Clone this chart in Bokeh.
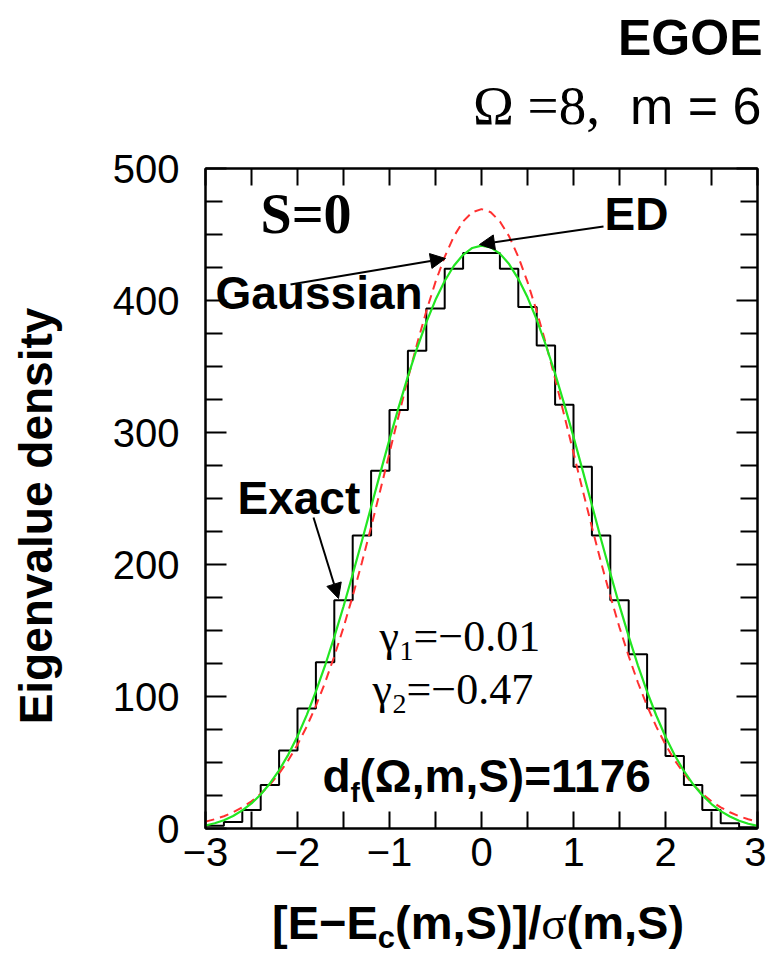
import math
from bokeh.plotting import figure
from bokeh.models import Label, Arrow, NormalHead, LinearAxis, FixedTicker, Range1d, Div
from bokeh.layouts import column, row
from bokeh.embed import file_html
from bokeh.resources import INLINE

# ---------------- data ----------------
bin_edges = [-3.0, -2.8, -2.6, -2.4, -2.2, -2.0, -1.8, -1.6, -1.4, -1.2, -1.0,
             -0.8, -0.6, -0.4, -0.2, 0.0, 0.2, 0.4, 0.6, 0.8, 1.0,
             1.2, 1.4, 1.6, 1.8, 2.0, 2.2, 2.4, 2.6, 2.8, 3.0]
bin_heights = [2, 5, 14, 33, 59, 91, 126, 173, 222, 271,
               317, 362, 394, 424, 436, 436, 424, 395, 366, 321,
               274, 222, 173, 132, 91, 55, 33, 14, 4, 1]

curve_x = [-3.0, -2.9, -2.8, -2.7, -2.6, -2.5, -2.4, -2.3, -2.2, -2.1,
           -2.0, -1.9, -1.8, -1.7, -1.6, -1.5, -1.4, -1.3, -1.2, -1.1,
           -1.0, -0.9, -0.8, -0.7, -0.6, -0.5, -0.4, -0.3, -0.2, -0.1,
           0.0, 0.1, 0.2, 0.3, 0.4, 0.5, 0.6, 0.7, 0.8, 0.9,
           1.0, 1.1, 1.2, 1.3, 1.4, 1.5, 1.6, 1.7, 1.8, 1.9,
           2.0, 2.1, 2.2, 2.3, 2.4, 2.5, 2.6, 2.7, 2.8, 2.9, 3.0]
gauss_y = [5.2, 7.0, 9.3, 12.3, 16.0, 20.6, 26.3, 33.3, 41.7, 51.7,
           63.5, 77.2, 92.9, 110.6, 130.5, 152.3, 176.1, 201.5, 228.4, 256.2,
           284.6, 312.9, 340.7, 367.2, 391.9, 414.1, 433.1, 448.6, 459.9, 466.9,
           469.2, 466.9, 459.9, 448.6, 433.1, 414.1, 391.9, 367.2, 340.7, 312.9,
           284.6, 256.2, 228.4, 201.5, 176.1, 152.3, 130.5, 110.6, 92.9, 77.2,
           63.5, 51.7, 41.7, 33.3, 26.3, 20.6, 16.0, 12.3, 9.3, 7.0, 5.2]
ed_y = [2.3, 4.0, 6.3, 9.5, 13.7, 19.0, 25.8, 34.1, 44.1, 56.0,
        69.9, 85.9, 103.8, 123.5, 145.2, 168.2, 192.6, 217.8, 243.6, 269.4,
        294.8, 319.2, 342.5, 364.0, 383.4, 400.5, 414.8, 426.3, 434.6, 439.8,
        441.6, 440.2, 435.5, 427.6, 416.4, 402.4, 385.5, 366.1, 344.6, 321.3,
        296.7, 271.1, 245.1, 219.0, 193.5, 168.8, 145.5, 123.6, 103.6, 85.6,
        69.5, 55.5, 43.6, 33.5, 25.2, 18.5, 13.2, 9.1, 5.9, 3.6, 2.0]

x_major_ticks = [-3, -2, -1, 0, 1, 2, 3]
x_tick_labels = ["\u22123", "\u22122", "\u22121", "0", "1", "2", "3"]
x_minor_ticks = [-2.5, -1.5, -0.5, 0.5, 1.5, 2.5]
y_major_ticks = [0, 100, 200, 300, 400, 500]
y_tick_labels = ["0", "100", "200", "300", "400", "500"]
y_minor_ticks = [25, 50, 75, 125, 150, 175, 225, 250, 275, 325, 350, 375, 425, 450, 475]

title_text = "EGOE"
subtitle_left = "\u03a9 =8,"
subtitle_right = "m = 6"
y_label = "Eigenvalue density"

# ---------------- layout constants (page pixels) ----------------
PAGE_W = 766
LEFT_W = 70          # y-label div width
TOP_H = 140          # title div height
FIG_H = 746          # figure height (page y 140 .. 886)
BOT_H = 68           # x-label div height (page y 886 .. 954)
FRAME_L, FRAME_R, FRAME_T, FRAME_B = 205, 757, 168, 828

# ---------------- figure ----------------
p = figure(width=PAGE_W - LEFT_W, height=FIG_H, x_range=Range1d(-3, 3), y_range=Range1d(0, 500),
           output_backend="svg", toolbar_location=None,
           x_axis_location=None, y_axis_location=None,
           min_border_left=FRAME_L - LEFT_W, min_border_right=PAGE_W - FRAME_R,
           min_border_top=FRAME_T - TOP_H, min_border_bottom=TOP_H + FIG_H - FRAME_B,
           margin=(0, 0, 0, 0))
p.grid.visible = False
p.outline_line_color = "black"
p.outline_line_width = 2
p.background_fill_color = "white"
p.border_fill_color = "white"


def make_axis(ticks, minor, labels, show, tin, minin, standoff):
    ax = LinearAxis(ticker=FixedTicker(ticks=ticks, minor_ticks=minor))
    if show:
        ax.major_label_overrides = dict(zip(ticks, labels))
    else:
        ax.major_label_overrides = {t: "" for t in ticks}
    ax.major_tick_in = tin
    ax.major_tick_out = 0
    ax.minor_tick_in = minin
    ax.minor_tick_out = 0
    ax.axis_line_width = 2
    ax.axis_line_color = "black"
    ax.major_tick_line_width = 2
    ax.minor_tick_line_width = 2
    ax.major_tick_line_color = "black"
    ax.minor_tick_line_color = "black"
    ax.major_label_text_font = "Liberation Sans"
    ax.major_label_text_font_size = "40px"
    ax.major_label_text_color = "black"
    ax.major_label_standoff = standoff if show else 0
    return ax


p.add_layout(make_axis(x_major_ticks, x_minor_ticks, x_tick_labels, True, 17, 17, 9), "below")
p.add_layout(make_axis(x_major_ticks, x_minor_ticks, x_tick_labels, False, 17, 17, 0), "above")
p.add_layout(make_axis(y_major_ticks, y_minor_ticks, y_tick_labels, True, 21, 17, 26), "left")
p.add_layout(make_axis(y_major_ticks, y_minor_ticks, y_tick_labels, False, 21, 17, 0), "right")

# histogram (Exact)
p.step(x=bin_edges, y=bin_heights + [bin_heights[-1]], mode="after",
       line_color="black", line_width=2)
# Gaussian
p.line(curve_x, gauss_y, line_color="#ff3030", line_width=2, line_dash="9 6")
# ED
p.line(curve_x, ed_y, line_color="#22e622", line_width=2.2)


# ---------------- annotations inside the frame ----------------
def px(X, Y):
    x = (X - FRAME_L) / ((FRAME_R - FRAME_L) / 6.0) - 3.0
    y = (FRAME_B - Y) / ((FRAME_B - FRAME_T) / 500.0)
    return x, y


def add_text(text, X, Y, size, font="Liberation Sans", style="bold"):
    # Y is the wanted baseline; Bokeh's alphabetic baseline sits ~0.35em lower
    x, y = px(X, Y - 0.35 * size)
    p.add_layout(Label(x=x, y=y, text=text, text_font=font, text_font_size=f"{size}px",
                       text_font_style=style, text_align="left", text_baseline="alphabetic",
                       text_color="black"))


def add_arrow(X0, Y0, X1, Y1):
    x0, y0 = px(X0, Y0)
    x1, y1 = px(X1, Y1)
    p.add_layout(Arrow(end=NormalHead(size=15, fill_color="black", line_color="black"),
                       x_start=x0, y_start=y0, x_end=x1, y_end=y1,
                       line_color="black", line_width=2))


add_text("S=0", 260, 233, 56, font="Liberation Serif", style="bold")
add_text("Gaussian", 215, 309, 46)
add_text("ED", 604, 230, 46)
add_text("Exact", 237, 514, 46)

add_text("\u03b3", 379, 651, 44, font="Liberation Serif", style="normal")
add_text("1", 399, 660, 28, font="Liberation Serif", style="normal")
add_text("=\u22120.01", 413, 651, 44, font="Liberation Serif", style="normal")

add_text("\u03b3", 372, 704, 44, font="Liberation Serif", style="normal")
add_text("2", 392, 713, 28, font="Liberation Serif", style="normal")
add_text("=\u22120.47", 406, 704, 44, font="Liberation Serif", style="normal")

add_text("d", 322, 792, 46)
add_text("f", 350, 802, 28)
add_text("(\u03a9,m,S)=1176", 359, 792, 46)

add_arrow(290, 284, 445, 258)   # Gaussian
add_arrow(603, 226, 479, 244)   # ED
add_arrow(313, 517, 338, 598)   # Exact


# ---------------- title, y-label and x-label (HTML text) ----------------
def span(text, left, baseline, size, family, weight, asc):
    top = baseline - asc * size
    return (f'<span style="position:absolute;left:{left}px;top:{top:.1f}px;'
            f'font-family:\'{family}\';font-size:{size}px;font-weight:{weight};'
            f'line-height:normal;white-space:nowrap;color:black;">{text}</span>')


SANS_ASC, SERIF_ASC = 0.905, 0.891

title_html = (f'<div style="position:relative;width:{PAGE_W}px;height:{TOP_H}px;">'
              + span(title_text, 618, 54, 50, "Liberation Sans", "bold", SANS_ASC)
              + span(subtitle_left, 473, 123, 55, "Liberation Serif", "normal", SERIF_ASC)
              + span(subtitle_right, 630, 123, 52, "Liberation Sans", "normal", SANS_ASC)
              + '</div>')

ylabel_html = (f'<div style="position:relative;width:{LEFT_W}px;height:{FIG_H}px;">'
               f'<span style="position:absolute;left:36px;top:{516 - TOP_H}px;'
               f'transform:translate(-50%,-50%) rotate(-90deg);white-space:nowrap;'
               f'font-family:\'Liberation Sans\';font-size:46px;font-weight:bold;'
               f'line-height:normal;color:black;">{y_label}</span></div>')

xlab_inner = ('[E\u2212E<span style="font-size:31px;line-height:1;vertical-align:-9px;">c</span>(m,S)]/'
              '<span style="font-family:\'Liberation Serif\';font-weight:normal;">\u03c3</span>(m,S)')
xlabel_html = (f'<div style="position:relative;width:{PAGE_W}px;height:{BOT_H}px;">'
               + span(xlab_inner, 272, 937 - (TOP_H + FIG_H), 47, "Liberation Sans", "bold", SANS_ASC)
               + '</div>')

top_div = Div(text=title_html, width=PAGE_W, height=TOP_H, margin=(0, 0, 0, 0))
left_div = Div(text=ylabel_html, width=LEFT_W, height=FIG_H, margin=(0, 0, 0, 0))
bot_div = Div(text=xlabel_html, width=PAGE_W, height=BOT_H, margin=(0, 0, 0, 0))

layout = column(top_div,
                row(left_div, p, spacing=0, margin=(0, 0, 0, 0)),
                bot_div, spacing=0, margin=(0, 0, 0, 0))

open("out.html", "w").write(file_html(layout, INLINE))
